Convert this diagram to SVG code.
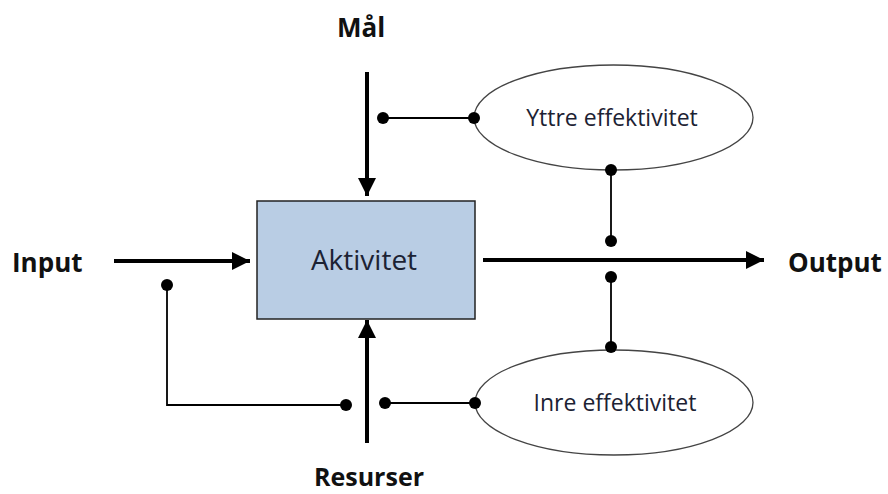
<svg xmlns="http://www.w3.org/2000/svg" width="888" height="494" viewBox="0 0 888 494">
<defs>
<marker id="ah" viewBox="0 0 10 10" refX="10" refY="5" markerWidth="4.5" markerHeight="4.5" markerUnits="strokeWidth" orient="auto">
<path d="M0,0 L10,5 L0,10 z" fill="#000"/>
</marker>
<style>
.lbl{font-family:"Open Sans","Liberation Sans",sans-serif;font-weight:bold;font-size:26px;fill:#111}
.etx{font-family:"Open Sans","Liberation Sans",sans-serif;font-size:23px;fill:#1c2233}
.thick{stroke:#000;stroke-width:4;fill:none}
.thin{stroke:#000;stroke-width:1.8;fill:none}
.dot{fill:#000}
.ell{fill:#fff;stroke:#444;stroke-width:1.3}
</style>
</defs>
<g id="connectors">
<line class="thick" x1="367" y1="72" x2="367" y2="196" marker-end="url(#ah)"/>
<line class="thick" x1="114" y1="261" x2="250" y2="261" marker-end="url(#ah)"/>
<line class="thick" x1="367" y1="443" x2="367" y2="320" marker-end="url(#ah)"/>
<line class="thick" x1="483" y1="260" x2="764" y2="260" marker-end="url(#ah)"/>
<polyline class="thin" points="167,285 167,405 346,405"/>
<line class="thin" x1="385" y1="403" x2="475" y2="403"/>
<line class="thin" x1="383" y1="118" x2="474" y2="118"/>
<line class="thin" x1="611" y1="170" x2="611" y2="241"/>
<line class="thin" x1="611" y1="277" x2="611" y2="347"/>
</g>
<g id="aktivitet">
<rect x="257" y="201" width="218" height="118" fill="#b9cde4" stroke="#222" stroke-width="1.5"/>
<text x="364" y="270" text-anchor="middle" font-family="Open Sans, Liberation Sans, sans-serif" font-size="28" fill="#1c2233">Aktivitet</text>
</g>
<g id="yttre">
<ellipse class="ell" cx="613.5" cy="117.5" rx="139.5" ry="52.5"/>
<text class="etx" x="612" y="126" text-anchor="middle">Yttre effektivitet</text>
</g>
<g id="inre">
<ellipse class="ell" cx="614" cy="402.5" rx="139" ry="52.5"/>
<text class="etx" x="615" y="411" text-anchor="middle">Inre effektivitet</text>
</g>
<g id="dots">
<circle class="dot" cx="167" cy="285" r="6"/>
<circle class="dot" cx="346" cy="405" r="6"/>
<circle class="dot" cx="385" cy="403" r="6"/>
<circle class="dot" cx="475" cy="403" r="6"/>
<circle class="dot" cx="383" cy="118" r="6"/>
<circle class="dot" cx="474" cy="118" r="6"/>
<circle class="dot" cx="611" cy="170" r="6"/>
<circle class="dot" cx="611" cy="241" r="6"/>
<circle class="dot" cx="611" cy="277" r="6"/>
<circle class="dot" cx="611" cy="347" r="6"/>
</g>
<g id="mal"><text class="lbl" x="361" y="37" text-anchor="middle">Mål</text></g>
<g id="input"><text class="lbl" x="12" y="272">Input</text></g>
<g id="output"><text class="lbl" x="788" y="272">Output</text></g>
<g id="resurser"><text class="lbl" x="369" y="486" text-anchor="middle" style="font-size:25px">Resurser</text></g>
</svg>
